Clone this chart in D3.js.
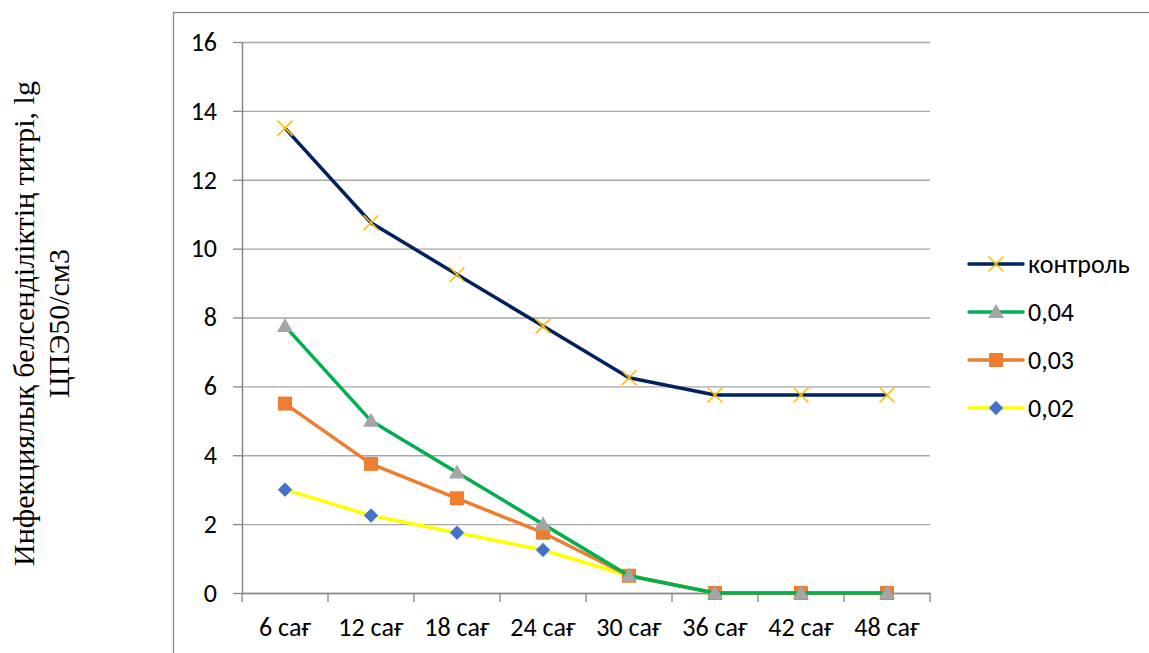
<!DOCTYPE html>
<html><head><meta charset="utf-8">
<script src="https://cdn.jsdelivr.net/npm/d3@7"></script>
<style>body{margin:0;background:#fff;} svg{display:block;}</style>
</head><body>
<svg id="chart" width="1149" height="653"></svg>
<script>
const categories = ["6 сағ","12 сағ","18 сағ","24 сағ","30 сағ","36 сағ","42 сағ","48 сағ"];
const seriesNames = ["контроль","0,04","0,03","0,02"];
const control = [13.5,10.75,9.25,7.75,6.25,5.75,5.75,5.75];
const c004 = [7.75,5,3.5,2,0.5,0,0,0];
const c003 = [5.5,3.75,2.75,1.75,0.5,0,0,0];
const c002 = [3,2.25,1.75,1.25,0.5,0,0,0];
const yTicks = [0,2,4,6,8,10,12,14,16];
const yTitle = ["Инфекциялық белсенділіктің титрі, lg","ЦПЭ50/см3"];

const tickFont = "Carlito, Calibri, 'Open Sans', sans-serif";
const fs = 26;
const series = [
  {name: seriesNames[0], values: control, line: "#002060", marker: "x", mcolor: "#FFC000"},
  {name: seriesNames[1], values: c004, line: "#00B050", marker: "tri", mcolor: "#A5A5A5"},
  {name: seriesNames[2], values: c003, line: "#ED7D31", marker: "sq", mcolor: "#ED7D31"},
  {name: seriesNames[3], values: c002, line: "#FFFF00", marker: "dia", mcolor: "#4472C4"}
];

const svg = d3.select("#chart");
// outer frame
svg.append("rect").attr("x",173.5).attr("y",12.5).attr("width",1200).attr("height",800)
  .attr("fill","none").attr("stroke","#898989").attr("stroke-width",1.3);

const L = 242, R = 930, T = 42, B = 593;
const x = d3.scaleBand().domain(categories).range([L,R]).paddingInner(0).paddingOuter(0);
const y = d3.scaleLinear().domain([0,16]).range([B,T]);

// gridlines
const gy = svg.append("g").attr("transform",`translate(${L},0)`)
  .call(d3.axisLeft(y).tickValues(yTicks).tickSize(-(R-L)).tickFormat(""));
gy.select(".domain").remove();
gy.selectAll(".tick line").attr("stroke","#A6A6A6").attr("stroke-width",1.3);

// y axis line + ticks
const ya = svg.append("g").attr("transform",`translate(${L},0)`)
  .call(d3.axisLeft(y).tickValues(yTicks).tickSize(9).tickPadding(16).tickSizeOuter(0));
ya.select(".domain").attr("stroke","#868686").attr("stroke-width",1.5);
ya.selectAll(".tick line").attr("stroke","#868686").attr("stroke-width",1.3);
ya.selectAll(".tick text").attr("font-family",tickFont).attr("font-size",fs).attr("fill","#000");

// x axis
const xa = svg.append("g").attr("transform",`translate(0,${B})`)
  .call(d3.axisBottom(x).tickSize(0).tickSizeOuter(0));
xa.select(".domain").attr("stroke","#868686").attr("stroke-width",1.5);
xa.selectAll(".tick text").attr("font-family",tickFont).attr("font-size",fs).attr("fill","#000")
  .attr("y",43).attr("dy",0);
// boundary tick marks
const bounds = categories.map(c=>x(c)).concat([R]);
xa.selectAll("line.bt").data(bounds).enter().append("line").attr("class","bt")
  .attr("x1",d=>d).attr("x2",d=>d).attr("y1",0).attr("y2",9)
  .attr("stroke","#868686").attr("stroke-width",1.3);

// y title
const ttl = svg.append("text").attr("transform","translate(34,323.5) rotate(-90)")
  .attr("text-anchor","middle").attr("font-family","'Liberation Serif', 'Times New Roman', serif")
  .attr("font-size",30).attr("fill","#000");
ttl.append("tspan").attr("x",0).attr("dy",0).text(yTitle[0]);
ttl.append("tspan").attr("x",0).attr("dy",35).text(yTitle[1]);

function drawMarker(g, type, color, cx, cy){
  if(type==="x"){
    const s=7.5;
    g.append("path").attr("d",`M${cx-s},${cy-s}L${cx+s},${cy+s}M${cx-s},${cy+s}L${cx+s},${cy-s}`)
      .attr("stroke",color).attr("stroke-width",1.6).attr("fill","none");
  } else if(type==="tri"){
    g.append("path").attr("d",`M${cx},${cy-8}L${cx+8},${cy+6}L${cx-8},${cy+6}Z`).attr("fill",color);
  } else if(type==="sq"){
    g.append("rect").attr("x",cx-7).attr("y",cy-7).attr("width",14).attr("height",14).attr("fill",color);
  } else if(type==="dia"){
    const s=7.5;
    g.append("path").attr("d",`M${cx},${cy-s}L${cx+s},${cy}L${cx},${cy+s}L${cx-s},${cy}Z`)
      .attr("fill",color).attr("stroke","#fff").attr("stroke-width",0.6);
  }
}

const line = d3.line().x((d,i)=>x(categories[i])+x.bandwidth()/2).y(d=>y(d));
const plot = svg.append("g");
// draw in reverse order so control is on top
[...series].reverse().forEach(s=>{
  const g = plot.append("g");
  g.append("path").datum(s.values).attr("d",line).attr("fill","none")
    .attr("stroke",s.line).attr("stroke-width",3.5).attr("stroke-linejoin","round");
  s.values.forEach((v,i)=>drawMarker(g,s.marker,s.mcolor,x(categories[i])+x.bandwidth()/2,y(v)));
});

// legend
const lg = svg.append("g");
series.forEach((s,i)=>{
  const yy = 264 + i*48;
  const g = lg.append("g");
  g.append("line").attr("x1",969).attr("x2",1023).attr("y1",yy).attr("y2",yy)
    .attr("stroke",s.line).attr("stroke-width",3.5).attr("stroke-linecap","round");
  drawMarker(g,s.marker,s.mcolor,996,yy);
  g.append("text").attr("x",1028).attr("y",yy).attr("dy","0.35em")
    .attr("font-family",tickFont).attr("font-size",fs).attr("fill","#000").text(s.name);
});
</script>
</body></html>
